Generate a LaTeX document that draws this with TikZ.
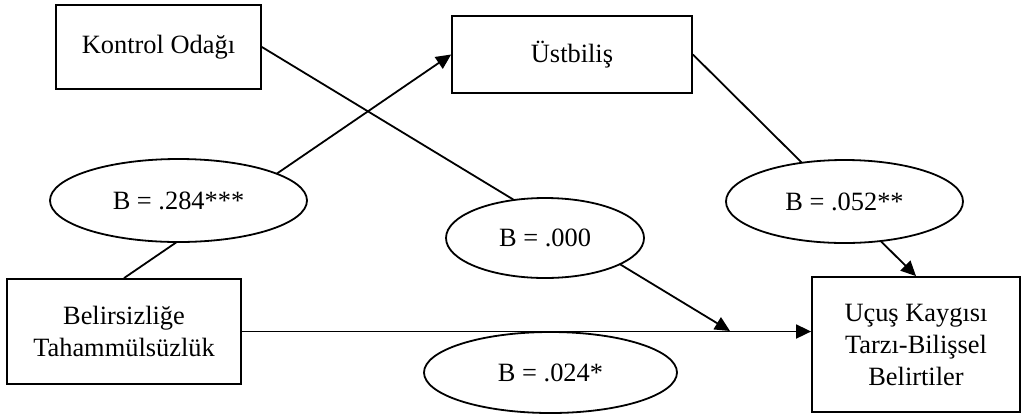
\documentclass[tikz,border=0pt]{standalone}
\usepackage{fontspec}
\setmainfont{Liberation Serif}
\usetikzlibrary{arrows.meta,shapes.geometric}
\begin{document}
\begin{tikzpicture}[x=0.5pt,y=-0.5pt,
  every node/.style={font=\fontsize{13.2}{16}\selectfont, inner sep=0pt, line width=0.9pt},
  box/.style={draw, rectangle, align=center},
  coef/.style={draw, ellipse, fill=white},
  conn/.style={line width=0.9pt},
  arr/.style={conn, -{Triangle[length=7.5pt,width=7pt]}}]
\useasboundingbox (0,0) rectangle (1023,414);
\node[box, minimum width=102.5pt, minimum height=42pt] (kontrol) at (158.5,47) {Kontrol Odağı};
\node[box, minimum width=120pt, minimum height=38.5pt] (ust) at (572,54.5) {Üstbiliş};
\node[box, minimum width=117pt, minimum height=52.5pt] (bel) at (124,331.5) {Belirsizliğe\\Tahammülsüzlük};
\node[box, minimum width=104pt, minimum height=67.5pt] (ucus) at (916,344.5) {Uçuş Kaygısı\\Tarzı-Bilişsel\\Belirtiler};
\coordinate (m) at (730,331);
\draw[arr] (bel.north) -- (ust.west);
\draw[arr] (kontrol.east) -- (m);
\draw[arr] (ust.east) -- (ucus.north);
\draw[arr] (bel.east) -- (bel.east -| ucus.west);
\node[coef, minimum width=128.5pt, minimum height=41.5pt] (e284) at (178.5,200.5) {B = .284***};
\node[coef, minimum width=99pt, minimum height=40pt] (e000) at (545,238) {B = .000};
\node[coef, minimum width=118.5pt, minimum height=41.5pt] (e052) at (844.5,201.5) {B = .052**};
\node[coef, minimum width=126.5pt, minimum height=40.5pt] (e024) at (550.5,372.5) {B = .024*};
\end{tikzpicture}
\end{document}
